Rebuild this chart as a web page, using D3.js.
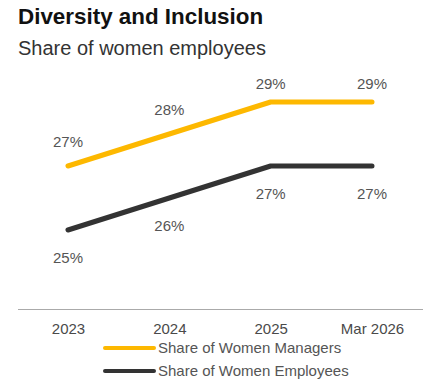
<!DOCTYPE html>
<meta charset="utf-8">
<style>
body { margin: 0; background: #fff; }
text { font-family: "Liberation Sans", Arial, sans-serif; }
.title { font-size: 22.4px; font-weight: bold; fill: #111; }
.subtitle { font-size: 20px; fill: #333; }
.value { font-size: 15px; fill: #555; }
.tick text { font-size: 15px; fill: #4a4a4a; }
.legend text { font-size: 15px; fill: #555; }
</style>
<svg width="423" height="382"></svg>
<script src="https://cdn.jsdelivr.net/npm/d3@7"></script>
<script>

var years = ["2023", "2024", "2025", "Mar 2026"];
var managers = [27, 28, 29, 29];
var employees = [25, 26, 27, 27];
var seriesNames = ["Share of Women Managers", "Share of Women Employees"];

var svg = d3.select("svg");

var x = d3.scalePoint()
    .domain(years)
    .range([68, 372]);

var y = d3.scaleLinear()
    .domain([22.5, 30])
    .range([310, 70]);

var series = [
    {name: seriesNames[0], values: managers, color: "#FDB800", above: true},
    {name: seriesNames[1], values: employees, color: "#333333", above: false}
];

svg.append("text")
    .attr("class", "title")
    .attr("x", 18)
    .attr("y", 24)
    .text("Diversity and Inclusion");

svg.append("text")
    .attr("class", "subtitle")
    .attr("x", 18)
    .attr("y", 55)
    .text("Share of women employees");

// baseline
svg.append("line")
    .attr("x1", 18)
    .attr("x2", 423)
    .attr("y1", y(22.5) - 0.5)
    .attr("y2", y(22.5) - 0.5)
    .attr("stroke", "#aaa")
    .attr("stroke-width", 1);

var line = d3.line()
    .x(function(d, i) { return x(years[i]); })
    .y(function(d) { return y(d); });

series.forEach(function(s) {
    svg.append("path")
        .datum(s.values)
        .attr("d", line)
        .attr("fill", "none")
        .attr("stroke", s.color)
        .attr("stroke-width", 5)
        .attr("stroke-linecap", "round")
        .attr("stroke-linejoin", "round");

    svg.append("g").selectAll("text")
        .data(s.values)
        .enter().append("text")
        .attr("class", "value")
        .attr("text-anchor", "middle")
        .attr("x", function(d, i) { return x(years[i]); })
        .attr("y", function(d) {
            return s.above ? Math.max(y(d) - 19, 89) : y(d) + 33;
        })
        .text(function(d) { return d + "%"; });
});

// x axis labels
var xAxis = svg.append("g")
    .attr("transform", "translate(0,318)")
    .call(d3.axisBottom(x).tickSize(0).tickPadding(0));
xAxis.select(".domain").remove();
xAxis.selectAll("text").attr("dy", "1em").attr("y", 1);
xAxis.selectAll(".tick text").style("font-family", "Liberation Sans, Arial, sans-serif");

// legend
var legend = svg.append("g").attr("class", "legend")
    .selectAll("g")
    .data(series)
    .enter().append("g")
    .attr("transform", function(d, i) { return "translate(103," + (348 + i * 23) + ")"; });

legend.append("line")
    .attr("x1", 2).attr("x2", 51)
    .attr("stroke", function(d) { return d.color; })
    .attr("stroke-width", 4)
    .attr("stroke-linecap", "round");

legend.append("text")
    .attr("x", 55)
    .attr("y", 5)
    .text(function(d) { return d.name; });

</script>
